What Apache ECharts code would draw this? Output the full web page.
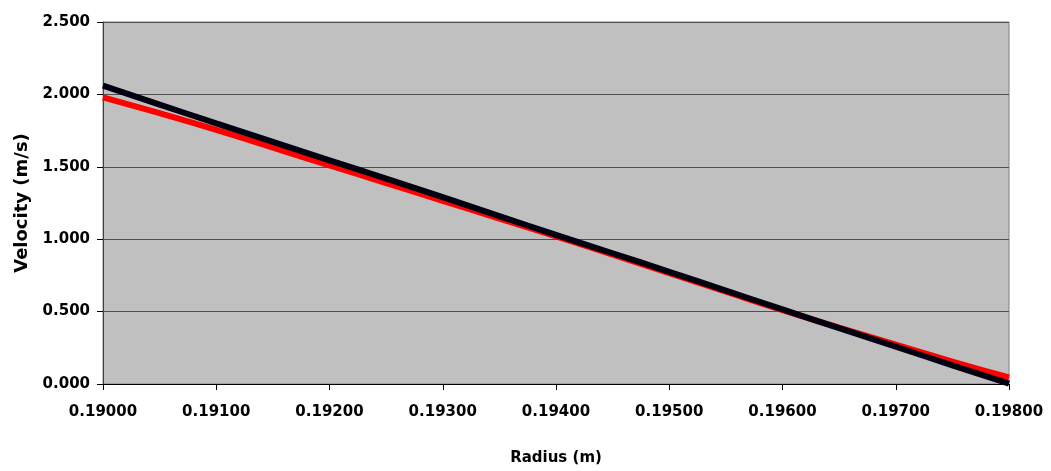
<!DOCTYPE html>
<html>
<head>
<meta charset="utf-8">
<script src="https://cdn.jsdelivr.net/npm/echarts@6/dist/echarts.min.js"></script>
<style>html,body{margin:0;padding:0;background:#fff}#c{width:1051px;height:471px}</style>
</head>
<body>
<div id="c"></div>
<script>
const radius = [0.19000, 0.19050, 0.19100, 0.19150, 0.19200, 0.19250, 0.19300, 0.19350, 0.19400, 0.19450, 0.19500, 0.19550, 0.19600, 0.19650, 0.19700, 0.19750, 0.19800];
const velocityRed = [1.980, 1.870, 1.755, 1.632, 1.510, 1.388, 1.265, 1.142, 1.020, 0.893, 0.765, 0.637, 0.510, 0.390, 0.272, 0.155, 0.045];
const velocityBlack = [2.060, 1.930, 1.800, 1.672, 1.545, 1.418, 1.290, 1.160, 1.030, 0.903, 0.775, 0.645, 0.515, 0.386, 0.258, 0.129, 0.003];
const xTicks = {min: 0.19, max: 0.198, interval: 0.001};
const yTicks = {min: 0, max: 2.5, interval: 0.5};

const chart = echarts.init(document.getElementById('c'));
const font = 'DejaVu Sans, Arial, sans-serif';
chart.setOption({
  animation: false,
  grid: {left: 103, right: 42, top: 22, bottom: 87, show: true, backgroundColor: '#C0C0C0', borderColor: '#808080', borderWidth: 1},
  xAxis: {
    type: 'value', min: xTicks.min, max: xTicks.max, interval: xTicks.interval,
    name: 'Radius (m)', nameLocation: 'middle', nameGap: 67,
    nameTextStyle: {fontFamily: font, fontWeight: 'bold', fontSize: 15, color: '#000'},
    axisLine: {show: true, lineStyle: {color: '#000', width: 1}},
    axisTick: {show: true, length: 6, lineStyle: {color: '#000'}},
    axisLabel: {margin: 21, fontFamily: font, fontWeight: 'bold', fontSize: 15, color: '#000', formatter: v => v.toFixed(5)},
    splitLine: {show: false}
  },
  yAxis: {
    type: 'value', min: yTicks.min, max: yTicks.max, interval: yTicks.interval,
    name: 'Velocity (m/s)', nameLocation: 'middle', nameGap: 70, nameRotate: 90,
    nameTextStyle: {fontFamily: font, fontWeight: 'bold', fontSize: 18, color: '#000'},
    axisLine: {show: true, lineStyle: {color: '#404040', width: 1}},
    axisTick: {show: true, length: 6, lineStyle: {color: '#000'}},
    axisLabel: {margin: 13, fontFamily: font, fontWeight: 'bold', fontSize: 15, color: '#000', formatter: v => v.toFixed(3)},
    splitLine: {show: true, lineStyle: {color: '#505050', width: 1}}
  },
  series: [
    {type: 'line', data: radius.map((r, i) => [r, velocityRed[i]]), smooth: true, showSymbol: false, lineStyle: {color: '#FF0000', width: 6}, z: 2},
    {type: 'line', data: radius.map((r, i) => [r, velocityBlack[i]]), smooth: true, showSymbol: false, lineStyle: {color: '#000010', width: 6}, z: 3}
  ]
});
</script>
</body>
</html>
